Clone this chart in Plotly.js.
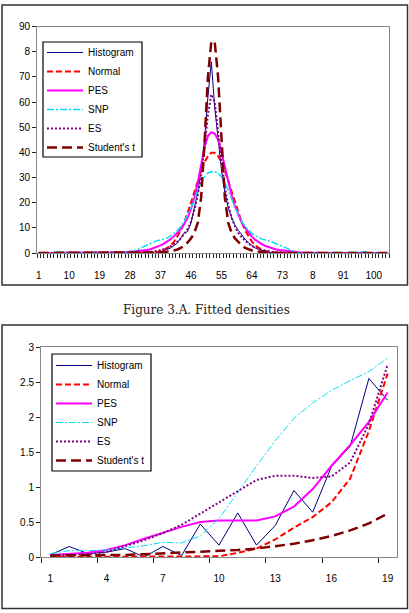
<!DOCTYPE html>
<html><head><meta charset="utf-8">
<script src="https://cdn.plot.ly/plotly-3.0.1.min.js"></script>
<style>html,body{margin:0;padding:0;background:#fff;}#chart{width:409px;height:613px;}</style>
</head><body><div id="chart"></div>
<script>
// ---------- Top chart: 104 categories ----------
const topCats = [];
for (let i = 1; i <= 104; i++) topCats.push(i);
const topTickVals = [1,10,19,28,37,46,55,64,73,82,91,100];
const topTickText = ["1","10","19","28","37","46","55","64","73","8","91","100"];
const topYTickVals = [0,10,20,30,40,50,60,70,80,90];
const topYTickText = ["0","10","20","30","40","50","60","70","8","90"];

const histTop = [
 0,0,0,0,0,0,0,0,0,0,
 0,0,0,0,0,0,0,0,0,0,
 0,0,0,0,0,0,0,0,0,0,
 0,0,0,0,0,0,0.5,1,1.5,2,
 3,4,6,8,8.5,12,18,24,33,45,
 62,76,58,46,33,24,18,14,11,9,
 7,5.5,4,3,2,1.5,1,0.5,0.3,0,
 0,0,0,0,0,0,0,0,0,0,
 0,0,0,0,0,0,0,0,0,0,
 0,0,0,0,0,0,0,0,0,0,
 0,0,0,0];
const normalTop = [
 0,0,0,0,0,0,0,0,0,0,
 0,0,0,0,0,0,0,0,0,0,
 0,0,0,0,0,0,0,0,0,0,
 0,0,0.05,0.1,0.25,0.4,0.8,1.2,2.0,3.0,
 4.5,6.5,9.0,12.1,15.8,19.9,24.3,28.6,32.7,36.1,
 38.5,39.8,39.8,38.5,36.1,32.7,28.6,24.3,19.9,15.8,
 12.1,9.0,6.5,4.5,3.0,2.0,1.2,0.8,0.4,0.25,
 0.1,0.05,0,0,0,0,0,0,0,0,
 0,0,0,0,0,0,0,0,0,0,
 0,0,0,0,0,0,0,0,0,0,
 0,0,0,0];
const pesTop = [
 0,0,0,0,0,0,0,0,0,0,
 0,0,0,0,0,0,0,0,0,0,
 0,0,0.05,0.1,0.2,0.3,0.4,0.5,0.6,0.7,
 0.8,1.0,1.2,1.5,1.9,2.4,3.0,3.7,4.5,5.5,
 6.7,8.0,9.5,11.5,14,17.5,22,28,35,42,
 46.5,48,47.5,45,40,34,28,23,18.5,15,
 12,10,8,6.5,5.2,4.2,3.4,2.8,2.3,1.9,
 1.5,1.2,1.0,0.8,0.6,0.5,0.4,0.3,0.2,0.15,
 0.05,0,0,0,0,0,0,0,0,0,
 0,0,0,0,0,0,0,0,0,0,
 0,0,0,0];
const snpTop = [
 0,0,0,0,0,0.4,0.5,0.3,0,0,
 0,0,0,0,0,0,0,0,0,0,
 0,0,0,0,0,0,0,0.3,0.7,1.2,
 1.8,2.5,3.2,3.8,4.4,4.9,5.2,5.5,6.0,6.8,
 7.8,9.0,10.5,12.5,15,18,21.5,25,28,30.3,
 31.8,32.3,32.3,31.8,30.3,28,25,21.5,18,15,
 12.5,10.5,9.0,7.8,6.8,6.0,5.5,5.2,4.9,4.4,
 3.8,3.2,2.5,1.8,1.2,0.7,0.3,0,0,0,
 0,0,0,0,0,0,0,0,0,0,
 0,0,0,0,0,0.3,0.5,0.4,0,0,
 0,0,0,0];
const esTop = [
 0,0,0,0,0,0,0,0,0,0,
 0,0,0,0,0,0,0,0,0,0,
 0,0,0,0,0,0,0,0,0,0.1,
 0.15,0.2,0.3,0.4,0.5,0.8,1.1,1.5,2.0,2.7,
 3.5,4.5,5.8,7.5,9.5,12.5,17,23,31,42,
 55,63,60,48,36,26,19,14,10.5,8,
 6.2,4.8,3.7,2.8,2.1,1.6,1.2,0.9,0.6,0.4,
 0.3,0.2,0.1,0,0,0,0,0,0,0,
 0,0,0,0,0,0,0,0,0,0,
 0,0,0,0,0,0,0,0,0,0,
 0,0,0,0];
const stTop = [
 0,0,0,0,0,0,0,0,0,0,
 0,0,0,0,0,0,0,0,0,0,
 0,0,0,0,0,0,0,0,0,0,
 0,0,0,0,0.1,0.15,0.25,0.35,0.5,0.7,
 1.0,1.4,2,3,4.2,5.8,8,12,22,44,
 70,84,84,70,44,22,12,8,5.8,4.2,
 3,2,1.4,1.0,0.7,0.5,0.35,0.25,0.15,0.1,
 0,0,0,0,0,0,0,0,0,0,
 0,0,0,0,0,0,0,0,0,0,
 0,0,0,0,0,0,0,0,0,0,
 0,0,0,0];

// ---------- Bottom chart: 19 categories ----------
const botCats = [1,2,3,4,5,6,7,8,9,10,11,12,13,14,15,16,17,18,19];
const botTickVals = [1,4,7,10,13,16,19];
const histBot   = [0.03,0.15,0.05,0.07,0.12,0,0.15,0.02,0.47,0.17,0.63,0.17,0.45,0.95,0.64,1.29,1.58,2.55,2.24];
const normalBot = [0,0,0,0,0,0,0,0,0,0.01,0.06,0.12,0.25,0.42,0.57,0.78,1.12,1.8,2.62];
const pesBot    = [0.03,0.05,0.06,0.1,0.17,0.26,0.35,0.43,0.5,0.52,0.52,0.52,0.58,0.72,0.97,1.3,1.6,1.93,2.35];
const snpBot    = [0.05,0.09,0.09,0.1,0.13,0.16,0.21,0.2,0.3,0.55,0.92,1.3,1.66,1.98,2.2,2.38,2.52,2.65,2.84];
const esBot     = [0.02,0.03,0.04,0.07,0.15,0.24,0.34,0.46,0.62,0.78,0.93,1.1,1.16,1.16,1.13,1.15,1.35,1.9,2.75];
const stBot     = [0.02,0.02,0.03,0.03,0.03,0.04,0.05,0.06,0.07,0.08,0.1,0.12,0.15,0.19,0.24,0.3,0.38,0.48,0.62];

const names = ["Histogram","Normal","PES","SNP","ES","Student's t"];
const styles = [
  {color:'#000080', width:1, dash:'solid'},
  {color:'#FF0000', width:2, dash:'6px,3px'},
  {color:'#FF00FF', width:2, dash:'solid'},
  {color:'#00E0F0', width:1.5, dash:'7px,2px,2px,2px'},
  {color:'#800080', width:2, dash:'2px,2px'},
  {color:'#800000', width:2.5, dash:'10px,5px'}
];
const topSeries = [histTop, normalTop, pesTop, snpTop, esTop, stTop];
const botSeries = [histBot, normalBot, pesBot, snpBot, esBot, stBot];

const traces = [];
topSeries.forEach((s, i) => {
  traces.push({x: topCats, y: s, type:'scatter', mode:'lines', name: names[i],
    line: Object.assign({}, styles[i]), xaxis:'x', yaxis:'y', legend:'legend', hoverinfo:'skip'});
});
botSeries.forEach((s, i) => {
  const st = Object.assign({}, styles[i]);
  if (i === 3) st.width = 1;
  traces.push({x: botCats, y: s, type:'scatter', mode:'lines', name: names[i],
    line: st, xaxis:'x2', yaxis:'y2', legend:'legend2', hoverinfo:'skip'});
});

const W = 409, H = 613;
const px = v => v / W, py = v => 1 - v / H;
const axisCommon = {showgrid:false, zeroline:false, showline:true, mirror:true,
  linecolor:'#8a8a8a', linewidth:1, tickfont:{size:10, color:'#000'}, fixedrange:true};

const legendCommon = {bgcolor:'rgba(0,0,0,0)', borderwidth:0, itemwidth:36,
  font:{size:10, color:'#000', family:'Liberation Sans, Arial, sans-serif'},
  xanchor:'left', yanchor:'top', tracegroupgap:0, itemclick:false};

const layout = {
  width: W, height: H, autosize:false,
  margin:{l:0, r:0, t:0, b:0, pad:0},
  paper_bgcolor:'#fff', plot_bgcolor:'rgba(0,0,0,0)',
  font:{family:'Liberation Sans, Arial, sans-serif', size:10, color:'#000'},
  showlegend:true,
  xaxis: Object.assign({}, axisCommon, {domain:[px(37), px(389)], range:[0.5,104.5], anchor:'y',
    tickmode:'array', tickvals: topTickVals, ticktext: topTickText,
    ticks:'outside', ticklen:13, tickcolor:'rgba(0,0,0,0)',
    minor:{tickmode:'linear', tick0:0.5, dtick:1, ticks:'outside', ticklen:4, tickcolor:'#222', tickwidth:1, showgrid:false}}),
  yaxis: Object.assign({}, axisCommon, {domain:[py(253), py(26.5)], range:[0,90], anchor:'x',
    tickmode:'array', tickvals: topYTickVals, ticktext: topYTickText,
    ticks:'outside', ticklen:4, tickcolor:'#222'}),
  xaxis2: Object.assign({}, axisCommon, {domain:[px(41), px(397)], range:[0.5,19.5], anchor:'y2',
    tickmode:'array', tickvals: botTickVals, ticktext: botTickVals.map(String),
    ticks:'outside', ticklen:12, tickcolor:'rgba(0,0,0,0)',
    minor:{tickmode:'linear', tick0:0.5, dtick:3, ticks:'outside', ticklen:5, tickcolor:'#222', tickwidth:1, showgrid:false}}),
  yaxis2: Object.assign({}, axisCommon, {domain:[py(557), py(347)], range:[0,3], anchor:'x2',
    tickmode:'linear', tick0:0, dtick:0.5, ticks:'outside', ticklen:4, tickcolor:'#222'}),
  legend: Object.assign({}, legendCommon, {x: px(42), y: py(38)}),
  legend2: Object.assign({}, legendCommon, {x: px(51), y: py(351)}),
  shapes: [
    {type:'rect', xref:'paper', yref:'paper', x0:px(43), x1:px(142), y0:py(157), y1:py(42),
      line:{color:'#000', width:1.2}, fillcolor:'#fff', layer:'below'},
    {type:'rect', xref:'paper', yref:'paper', x0:px(52), x1:px(151), y0:py(471), y1:py(354),
      line:{color:'#000', width:1.2}, fillcolor:'#fff', layer:'below'},
    {type:'rect', xref:'paper', yref:'paper', x0:px(2), x1:px(407.5), y0:py(285), y1:py(5),
      line:{color:'#333', width:1.5}, fillcolor:'rgba(0,0,0,0)', layer:'above'},
    {type:'rect', xref:'paper', yref:'paper', x0:px(2), x1:px(407.5), y0:py(608.5), y1:py(325),
      line:{color:'#333', width:1.5}, fillcolor:'rgba(0,0,0,0)', layer:'above'}
  ],
  annotations: [
    {text:'Figure 3.A. Fitted densities', xref:'paper', yref:'paper', x:px(206), y:py(310),
      xanchor:'center', yanchor:'middle', showarrow:false,
      font:{family:'DejaVu Serif, Liberation Serif, serif', size:12, color:'#222'}}
  ]
};

Plotly.newPlot('chart', traces, layout, {staticPlot:true, displayModeBar:false});
</script>
</body></html>
